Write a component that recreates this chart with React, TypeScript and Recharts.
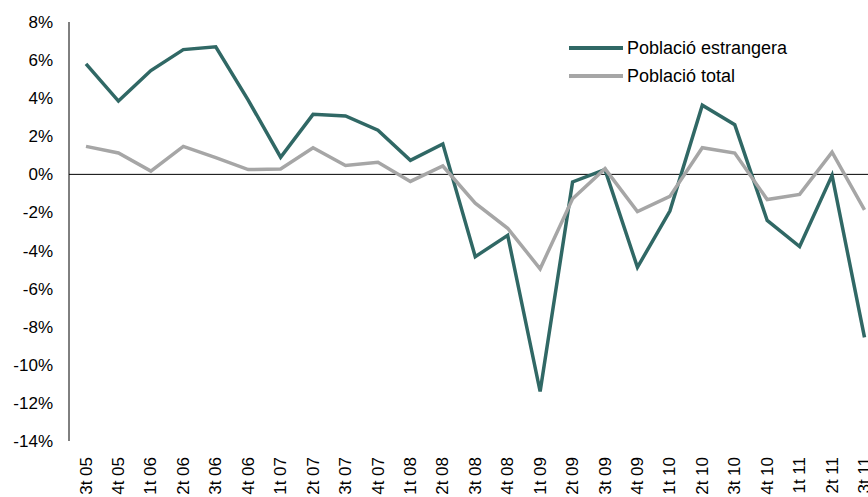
import React from 'react';
import { LineChart, Line, XAxis, YAxis, ReferenceLine } from 'recharts';

const categories = ['3t 05','4t 05','1t 06','2t 06','3t 06','4t 06','1t 07','2t 07','3t 07','4t 07','1t 08','2t 08','3t 08','4t 08','1t 09','2t 09','3t 09','4t 09','1t 10','2t 10','3t 10','4t 10','1t 11','2t 11','3t 11'];
const estrangera = [5.8, 3.85, 5.45, 6.55, 6.7, 3.9, 0.9, 3.15, 3.07, 2.32, 0.74, 1.6, -4.32, -3.2, -11.4, -0.4, 0.25, -4.88, -1.93, 3.63, 2.61, -2.42, -3.79, -0.05, -8.56];
const total = [1.47, 1.12, 0.17, 1.47, 0.88, 0.25, 0.28, 1.4, 0.47, 0.63, -0.37, 0.44, -1.51, -2.83, -4.96, -1.28, 0.3, -1.95, -1.16, 1.4, 1.12, -1.32, -1.05, 1.17, -1.86];
const yTicks = [-14, -12, -10, -8, -6, -4, -2, 0, 2, 4, 6, 8];
const seriesNames = ['Població estrangera', 'Població total'];

const TEAL = '#306865';
const GRAY = '#A6A6A6';

const data = categories.map((c, i) => ({ cat: c, estr: estrangera[i], tot: total[i] }));

const FONT = 'Liberation Sans, Arial, sans-serif';

const XTick = (props: any) => {
  const { x, y, payload } = props;
  return (
    <text
      x={x}
      y={y}
      transform={`rotate(-90, ${x}, ${y})`}
      textAnchor="end"
      dy="0.33em"
      fontSize={17}
      fontFamily={FONT}
      fill="#000"
    >
      {payload.value}
    </text>
  );
};

const LegendBox = () => (
  <div style={{ position: 'absolute', left: 569, top: 34, fontFamily: FONT, fontSize: 18, color: '#000' }}>
    {[
      { label: seriesNames[0], color: TEAL },
      { label: seriesNames[1], color: GRAY },
    ].map((it) => (
      <div key={it.label} style={{ display: 'flex', alignItems: 'center', height: 28, whiteSpace: 'nowrap' }}>
        <svg width={58} height={10} style={{ display: 'block' }}>
          <line x1={0} y1={5} x2={54} y2={5} stroke={it.color} strokeWidth={4} />
        </svg>
        <span style={{ lineHeight: '28px' }}>{it.label}</span>
      </div>
    ))}
  </div>
);

export default function App() {
  return (
    <div style={{ position: 'absolute', left: 0, top: 0, width: 868, height: 497, overflow: 'hidden', background: '#fff' }}>
      <LineChart width={868} height={497} data={data} margin={{ top: 22, right: 0, left: 0, bottom: 0 }}>
        <XAxis
          dataKey="cat"
          interval={0}
          axisLine={false}
          tickLine={false}
          tickSize={0}
          tickMargin={16}
          height={56}
          padding={{ left: 17, right: 3.5 }}
          tick={<XTick />}
        />
        <YAxis
          domain={[-14, 8]}
          ticks={yTicks}
          interval={0}
          width={69}
          tickLine={false}
          tickSize={0}
          tickMargin={16}
          axisLine={{ stroke: '#000', strokeWidth: 1 }}
          tickFormatter={(v: number) => `${v}%`}
          tick={{ fontSize: 17, fontFamily: FONT, fill: '#000' }}
        />
        <ReferenceLine y={0} stroke="#000" strokeWidth={1} />
        <Line type="linear" dataKey="estr" stroke={TEAL} strokeWidth={3.5} dot={false} isAnimationActive={false} name={seriesNames[0]} />
        <Line type="linear" dataKey="tot" stroke={GRAY} strokeWidth={3.5} dot={false} isAnimationActive={false} name={seriesNames[1]} />
      </LineChart>
      <LegendBox />
    </div>
  );
}
